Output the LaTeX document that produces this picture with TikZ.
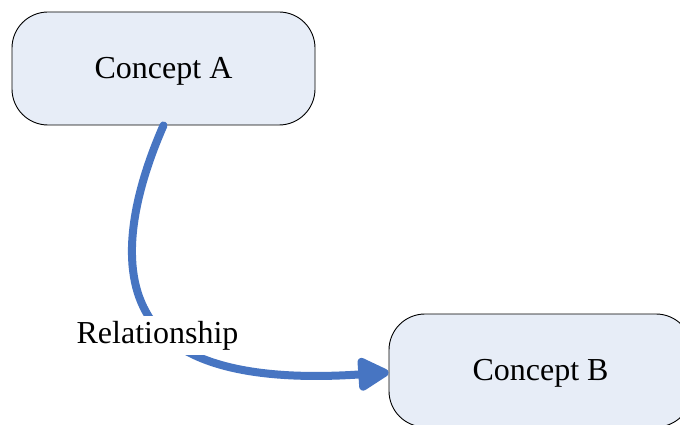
\documentclass[tikz,border=0pt]{standalone}
\usepackage{fontspec}
\setmainfont{Liberation Serif}
\usetikzlibrary{arrows.meta}
\definecolor{conceptfill}{HTML}{E7EDF7}
\definecolor{linkblue}{HTML}{4775C2}
\tikzset{
  concept/.style={draw=black, line width=0.9pt, fill=conceptfill, rounded corners=36pt,
    minimum width=303pt, minimum height=113pt, inner sep=0pt,
    font=\fontsize{32}{38}\selectfont},
  relation/.style={draw=linkblue, line width=8pt, line cap=round,
    -{Triangle[length=35pt,width=36pt,round=false]}},
  rellabel/.style={fill=white, inner xsep=1pt, inner ysep=5pt,
    font=\fontsize{32}{38}\selectfont}
}
\begin{document}
\begin{tikzpicture}[x=1pt,y=-1pt]
  \useasboundingbox (0,0) rectangle (680,425);
  \clip (0,0) rectangle (680,425);
  \fill[white] (0,0) rectangle (680,425);
  % concepts
  \node[concept] (A) at (163.5,68.5) {};
  \node[concept] (B) at (540.5,370.5) {};
  \node[font=\fontsize{32}{38}\selectfont, anchor=base] (At) at (163.5,79) {Concept A};
  \node[font=\fontsize{32}{38}\selectfont, anchor=base] (Bt) at (540.5,380.5) {Concept B};
  % relationship link
  \coordinate (tip) at ([yshift=-2pt]B.west);
  \draw[relation] (A.south) .. controls (136,188) and (118,262) .. (146,312)
     .. controls (176,368) and (262,381) .. (tip);
  \node[rellabel, anchor=base] (R) at (157.5,343) {Relationship};
\end{tikzpicture}
\end{document}
